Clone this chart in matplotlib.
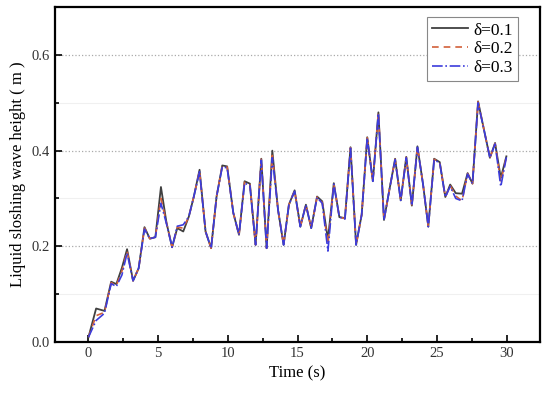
"""
Liquid sloshing wave height vs time for three damping ratios
"""
import matplotlib.pyplot as plt
from matplotlib.ticker import MultipleLocator

# Data
time = [0, 0.55, 1.15, 1.63, 2.0, 2.4, 2.77, 3.2, 3.6, 4.02, 4.4, 4.8, 5.2, 5.6,
        6.0, 6.37, 6.8, 7.2, 7.56, 7.97, 8.4, 8.8, 9.19, 9.6, 9.95, 10.39, 10.8,
        11.2, 11.58, 11.99, 12.4, 12.78, 13.19, 13.6, 14.0, 14.38, 14.79, 15.2,
        15.6, 15.98, 16.4, 16.77, 17.18, 17.6, 18.0, 18.4, 18.8, 19.2, 19.6, 20.0,
        20.4, 20.8, 21.2, 21.6, 22.0, 22.4, 22.8, 23.2, 23.6, 24.0, 24.38, 24.8,
        25.2, 25.6, 25.95, 26.35, 26.8, 27.2, 27.55, 27.95, 28.4, 28.8, 29.17,
        29.58, 29.98]

h_01 = [0.01, 0.07, 0.065, 0.126, 0.121, 0.155, 0.194, 0.128, 0.154, 0.24, 0.216,
        0.219, 0.324, 0.249, 0.198, 0.238, 0.231, 0.262, 0.304, 0.36, 0.231, 0.196,
        0.304, 0.369, 0.367, 0.27, 0.224, 0.336, 0.331, 0.203, 0.383, 0.196, 0.40,
        0.276, 0.203, 0.287, 0.317, 0.241, 0.287, 0.238, 0.304, 0.294, 0.214, 0.332,
        0.261, 0.259, 0.407, 0.203, 0.266, 0.428, 0.336, 0.48, 0.255, 0.32, 0.383,
        0.296, 0.387, 0.285, 0.409, 0.33, 0.241, 0.383, 0.376, 0.303, 0.329, 0.311,
        0.31, 0.353, 0.331, 0.503, 0.44, 0.385, 0.416, 0.343, 0.388]

h_02 = [0.01, 0.055, 0.062, 0.124, 0.118, 0.148, 0.19, 0.128, 0.154, 0.238, 0.216,
        0.219, 0.30, 0.249, 0.198, 0.24, 0.238, 0.262, 0.304, 0.358, 0.231, 0.196,
        0.304, 0.368, 0.366, 0.27, 0.224, 0.334, 0.329, 0.203, 0.382, 0.196, 0.39,
        0.276, 0.203, 0.287, 0.316, 0.241, 0.287, 0.238, 0.303, 0.292, 0.205, 0.331,
        0.261, 0.258, 0.406, 0.203, 0.266, 0.427, 0.336, 0.479, 0.255, 0.32, 0.382,
        0.296, 0.386, 0.285, 0.408, 0.33, 0.241, 0.382, 0.375, 0.303, 0.327, 0.305,
        0.295, 0.352, 0.331, 0.502, 0.44, 0.385, 0.415, 0.335, 0.387]

h_03 = [0.01, 0.045, 0.06, 0.122, 0.116, 0.14, 0.186, 0.128, 0.154, 0.236, 0.216,
        0.219, 0.29, 0.247, 0.198, 0.242, 0.245, 0.262, 0.304, 0.356, 0.231, 0.196,
        0.304, 0.366, 0.364, 0.27, 0.224, 0.332, 0.327, 0.203, 0.38, 0.196, 0.385,
        0.276, 0.203, 0.287, 0.315, 0.241, 0.287, 0.238, 0.302, 0.29, 0.19, 0.33,
        0.261, 0.257, 0.405, 0.203, 0.266, 0.426, 0.336, 0.478, 0.255, 0.32, 0.381,
        0.296, 0.385, 0.285, 0.407, 0.33, 0.241, 0.381, 0.374, 0.303, 0.325, 0.3,
        0.295, 0.351, 0.331, 0.50, 0.44, 0.385, 0.414, 0.325, 0.386]

plt.rcParams['font.family'] = ['Liberation Serif', 'DejaVu Serif']

fig = plt.figure(figsize=(5.5, 3.94), dpi=100)
ax = fig.add_axes([0.1, 0.132, 0.882, 0.85])

ax.plot(time, h_01, color='#404040', lw=1.3, ls='-', label='δ=0.1')
ax.plot(time, h_02, color='#d2603a', lw=1.2, ls=(0, (4, 3)), label='δ=0.2')
ax.plot(time, h_03, color='#3c3cdc', lw=1.2, ls='-.', label='δ=0.3')

ax.set_xlim(-2.4, 32.4)
ax.set_ylim(0, 0.7)
ax.xaxis.set_major_locator(MultipleLocator(5))
ax.xaxis.set_minor_locator(MultipleLocator(2.5))
ax.yaxis.set_major_locator(MultipleLocator(0.2))
ax.yaxis.set_minor_locator(MultipleLocator(0.1))
ax.yaxis.set_major_formatter(lambda v, p: f'{v:.1f}')

ax.grid(True, which='major', axis='y', ls=':', color='#aaaaaa', lw=0.9)
ax.grid(True, which='minor', axis='y', ls='-', color='#f0f0f0', lw=0.8)

ax.tick_params(which='both', direction='in', labelsize=10.5, width=1.2,
               labelcolor='#333333')
ax.tick_params(which='major', length=5)
ax.tick_params(which='minor', length=3)
for s in ax.spines.values():
    s.set_linewidth(1.6)

ax.set_xlabel('Time (s)', fontsize=12)
ax.set_ylabel('Liquid sloshing wave height ( m )', fontsize=12)

leg = ax.legend(loc='upper right', bbox_to_anchor=(0.955, 0.97), fontsize=12.5,
                fancybox=False, framealpha=1, edgecolor='#888888',
                handlelength=2.1, handletextpad=0.3, borderpad=0.3,
                labelspacing=0.15, borderaxespad=0)
leg.get_frame().set_linewidth(0.8)

fig.savefig('out.png', dpi=100)
